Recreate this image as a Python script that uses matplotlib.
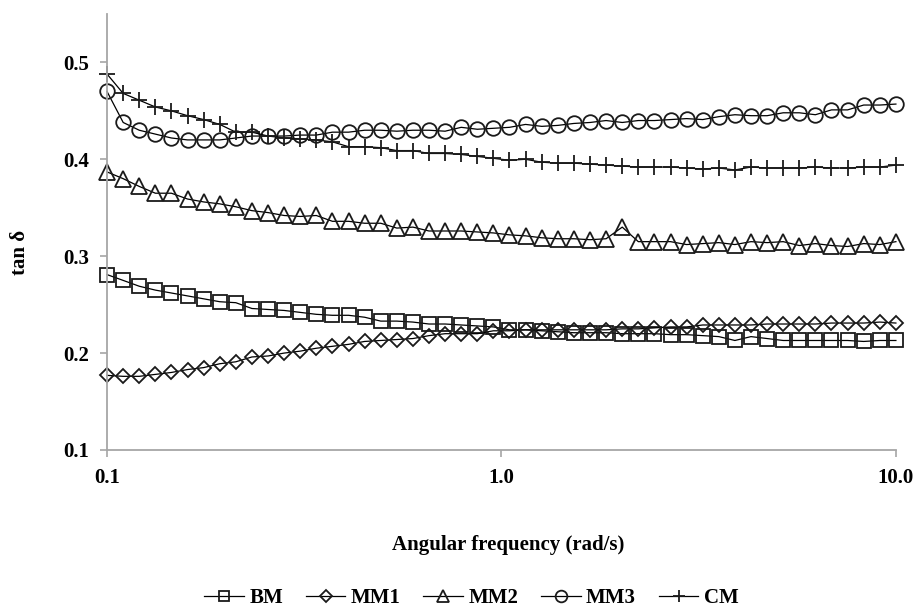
import matplotlib
matplotlib.use("Agg")
import matplotlib.pyplot as plt

plt.rcParams["font.family"] = ["Liberation Serif", "DejaVu Serif"]
plt.rcParams["font.weight"] = "bold"

# angular frequency sweep (rad/s), 50 points, log spaced
freq = [0.1, 0.1099, 0.1207, 0.1326, 0.1456, 0.16, 0.1758, 0.1931, 0.2121, 0.233,
        0.256, 0.2812, 0.3089, 0.3393, 0.3728, 0.4095, 0.4498, 0.4942, 0.5429, 0.5964,
        0.6551, 0.7197, 0.7906, 0.8685, 0.9541, 1.048, 1.151, 1.265, 1.39, 1.526,
        1.677, 1.842, 2.024, 2.223, 2.442, 2.683, 2.947, 3.237, 3.556, 3.907,
        4.292, 4.715, 5.179, 5.69, 6.251, 6.866, 7.543, 8.286, 9.103, 10.0]

bm = [0.281, 0.275, 0.269, 0.265, 0.262, 0.259, 0.256, 0.253, 0.252, 0.246,
      0.245, 0.244, 0.242, 0.240, 0.239, 0.239, 0.237, 0.233, 0.233, 0.232,
      0.230, 0.230, 0.229, 0.228, 0.227, 0.224, 0.224, 0.223, 0.222, 0.221,
      0.221, 0.221, 0.220, 0.220, 0.220, 0.219, 0.219, 0.218, 0.217, 0.213,
      0.217, 0.215, 0.213, 0.213, 0.213, 0.213, 0.213, 0.212, 0.213, 0.213]

mm1 = [0.177, 0.176, 0.176, 0.178, 0.180, 0.183, 0.185, 0.189, 0.191, 0.196,
       0.197, 0.200, 0.202, 0.205, 0.207, 0.209, 0.212, 0.213, 0.214, 0.215,
       0.218, 0.220, 0.220, 0.220, 0.223, 0.223, 0.224, 0.224, 0.224, 0.224,
       0.224, 0.224, 0.225, 0.225, 0.226, 0.227, 0.227, 0.229, 0.229, 0.229,
       0.229, 0.230, 0.230, 0.230, 0.230, 0.231, 0.231, 0.231, 0.232, 0.231]

mm2 = [0.387, 0.380, 0.372, 0.365, 0.365, 0.359, 0.356, 0.354, 0.351, 0.347,
       0.345, 0.342, 0.341, 0.342, 0.336, 0.336, 0.334, 0.334, 0.329, 0.330,
       0.326, 0.326, 0.326, 0.325, 0.324, 0.322, 0.321, 0.319, 0.318, 0.318,
       0.317, 0.318, 0.330, 0.315, 0.315, 0.315, 0.312, 0.313, 0.314, 0.312,
       0.315, 0.314, 0.315, 0.311, 0.313, 0.311, 0.310, 0.313, 0.312, 0.315]

mm3 = [0.470, 0.438, 0.430, 0.426, 0.422, 0.420, 0.420, 0.420, 0.422, 0.424,
       0.424, 0.424, 0.425, 0.425, 0.428, 0.428, 0.430, 0.430, 0.429, 0.430,
       0.430, 0.429, 0.433, 0.431, 0.432, 0.433, 0.436, 0.434, 0.435, 0.437,
       0.438, 0.440, 0.438, 0.440, 0.440, 0.441, 0.442, 0.441, 0.444, 0.446,
       0.445, 0.445, 0.448, 0.448, 0.446, 0.451, 0.451, 0.456, 0.456, 0.457]

cm = [0.488, 0.468, 0.461, 0.454, 0.450, 0.445, 0.441, 0.436, 0.428, 0.428,
      0.424, 0.422, 0.421, 0.420, 0.418, 0.413, 0.413, 0.412, 0.409, 0.409,
      0.406, 0.406, 0.405, 0.403, 0.401, 0.399, 0.400, 0.397, 0.396, 0.396,
      0.395, 0.394, 0.393, 0.392, 0.392, 0.392, 0.391, 0.390, 0.391, 0.389,
      0.392, 0.391, 0.391, 0.391, 0.392, 0.391, 0.391, 0.392, 0.392, 0.394]

series = [
    ("BM", bm, "s", 9.5),
    ("MM1", mm1, "D", 7.5),
    ("MM2", mm2, "^", 11),
    ("MM3", mm3, "o", 10.5),
    ("CM", cm, "+", 11),
]

fig = plt.figure(figsize=(9.17, 6.07), dpi=100)
ax = fig.add_axes([0.1167, 0.2587, 0.8603, 0.7183])

for name, vals, mk, ms in series:
    ax.plot(freq, vals, color="black", lw=0.9, marker=mk, markersize=ms,
            markerfacecolor="none", markeredgecolor="#1a1a1a", markeredgewidth=1.3,
            label=name, clip_on=False)

ax.set_xscale("log")
ax.set_xlim(0.1, 10)
ax.set_ylim(0.1, 0.55)
ax.set_xticks([0.1, 1, 10])
ax.set_xticklabels(["0.1", "1.0", "10.0"])
ax.xaxis.set_minor_locator(matplotlib.ticker.NullLocator())
ax.set_yticks([0.1, 0.2, 0.3, 0.4, 0.5])
ax.set_yticklabels(["0.1", "0.2", "0.3", "0.4", "0.5"])

for side in ["top", "right"]:
    ax.spines[side].set_visible(False)
for side in ["left", "bottom"]:
    ax.spines[side].set_color("#a6a6a6")
    ax.spines[side].set_linewidth(1.3)
ax.tick_params(axis="both", direction="out", length=5, width=1.2, color="#a6a6a6",
               labelsize=15, pad=8)
ax.tick_params(axis="y", pad=8)
for lbl in ax.get_xticklabels() + ax.get_yticklabels():
    lbl.set_fontweight("bold")

fig.text(0.022, 1 - 252 / 607, "tan δ", rotation=90, ha="center", va="center",
         fontsize=15, fontweight="bold")
fig.text(0.554, 1 - 545 / 607, "Angular frequency (rad/s)", ha="center", va="center",
         fontsize=15, fontweight="bold")

handles, labels = ax.get_legend_handles_labels()
leg = fig.legend(handles, labels, loc="center", bbox_to_anchor=(0.514, 1 - 598 / 607),
                 ncol=5, frameon=False, fontsize=15, handlelength=1.9,
                 columnspacing=1.1, handletextpad=0.25, markerscale=0.8)
for t in leg.get_texts():
    t.set_fontweight("bold")

fig.savefig("out.png", dpi=100)
